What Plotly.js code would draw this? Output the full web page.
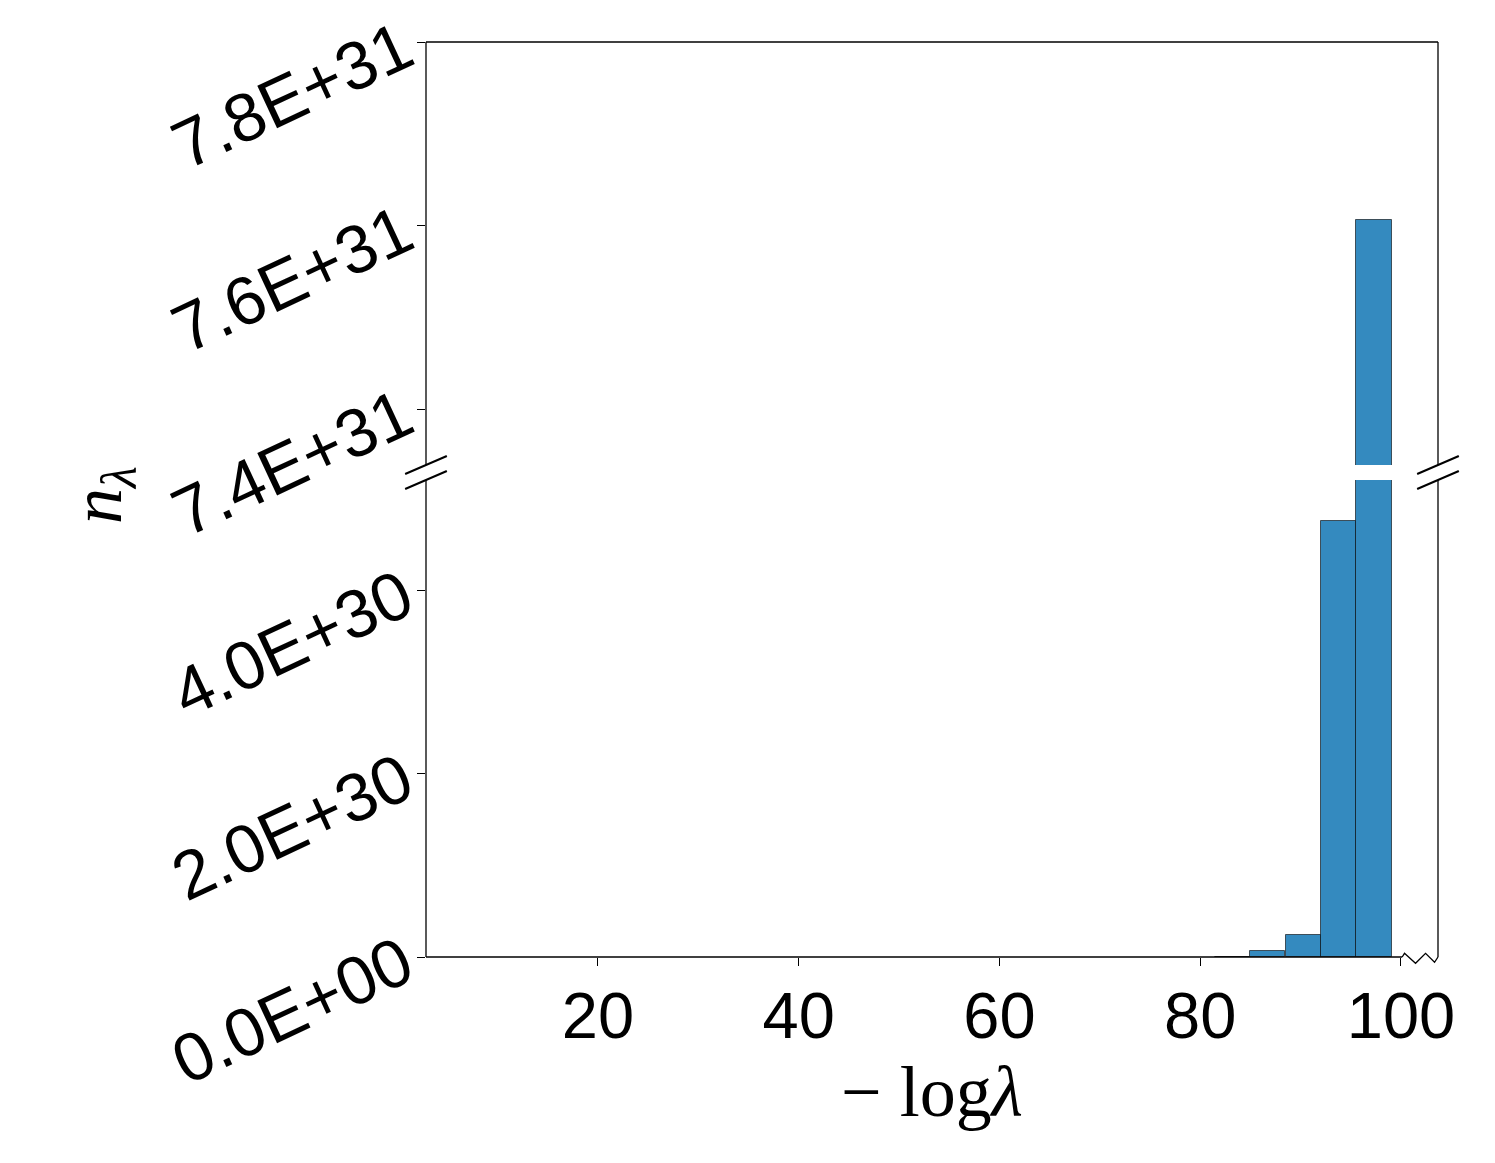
<!DOCTYPE html>
<html>
<head>
<meta charset="utf-8">
<script src="https://cdn.plot.ly/plotly-3.0.1.min.js"></script>
<style>
  html, body { margin: 0; padding: 0; background: #fff; }
  #myDiv { width: 1495px; height: 1163px; }
</style>
</head>
<body>
<div id="myDiv"></div>
<script>
// histogram bins (-log lambda) and counts n_lambda
var binCenters = [83.23, 86.73, 90.27, 93.79, 97.31];
var binWidth = 3.52;
var counts = [1.0e27, 6.5e28, 2.4e29, 4.75e30, 7.6065e31];

var xTickVals = [20, 40, 60, 80, 100];
var lowerTickVals = [0, 2e30, 4e30];
var lowerTickText = ['0.0E+00', '2.0E+30', '4.0E+30'];
var upperTickVals = [7.4e31, 7.6e31, 7.8e31];
var upperTickText = ['7.4E+31', '7.6E+31', '7.8E+31'];

var barColor = '#348abf';
var sans = 'Liberation Sans, Arial, sans-serif';
var serif = 'Liberation Serif, Times New Roman, serif';
var xTickFont = {family: sans, size: 65, color: '#000'};
var yTickFont = {family: sans, size: 68, color: '#000'};

var bars = {
  type: 'bar',
  x: binCenters,
  y: counts,
  width: binWidth,
  marker: {color: barColor, line: {color: 'rgba(0,0,0,0.6)', width: 1}},
  hoverinfo: 'x+y'
};
var lower = Object.assign({}, bars, {xaxis: 'x', yaxis: 'y'});
var upper = Object.assign({}, bars, {xaxis: 'x', yaxis: 'y2'});

var lowTop = 0.5213, upBot = 0.5377;
var dx = 0.0206, dy = 0.0098;
var spine = {color: '#000', width: 1.3};
var brk = {color: '#000', width: 2};

function seg(x0, y0, x1, y1, line) {
  return {type: 'line', xref: 'paper', yref: 'paper', x0: x0, y0: y0, x1: x1, y1: y1, line: line};
}

var shapes = [
  // spines
  seg(0, 0, 0, lowTop, spine),
  seg(1, 0, 1, lowTop, spine),
  seg(0, upBot, 0, 1, spine),
  seg(1, upBot, 1, 1, spine),
  seg(0, 1, 1, 1, spine),
  seg(0, 0, 0.9646, 0, spine),
  // wavy end of the x axis
  {type: 'path', xref: 'paper', yref: 'paper',
   path: 'M 0.9646 0 L 0.9669 0.0040 L 0.9778 -0.0069 L 0.9877 0.0040 L 0.9966 -0.0058 L 1 0',
   line: spine},
  // break marks
  seg(-dx, upBot - dy, dx, upBot + dy, brk),
  seg(-dx, lowTop - dy, dx, lowTop + dy, brk),
  seg(1 - dx, upBot - dy, 1 + dx, upBot + dy, brk),
  seg(1 - dx, lowTop - dy, 1 + dx, lowTop + dy, brk)
];

var layout = {
  width: 1495,
  height: 1163,
  margin: {l: 426, r: 57, t: 42, b: 206},
  paper_bgcolor: '#fff',
  plot_bgcolor: '#fff',
  showlegend: false,
  bargap: 0,
  xaxis: {
    range: [2.87, 103.69],
    tickvals: xTickVals,
    ticks: 'outside', ticklen: 8, tickwidth: 1.3, tickcolor: '#000',
    ticklabelstandoff: -6,
    showgrid: false, zeroline: false, showline: false,
    tickfont: xTickFont,
    anchor: 'y',
    title: {text: '− log<i>λ</i>', font: {family: serif, size: 72, color: '#000'}, standoff: 14}
  },
  yaxis: {
    domain: [0, lowTop],
    range: [0, 5.2e30],
    tickvals: lowerTickVals, ticktext: lowerTickText,
    tickangle: -25,
    ticks: 'outside', ticklen: 8, tickwidth: 1.3, tickcolor: '#000',
    showgrid: false, zeroline: false, showline: false,
    tickfont: yTickFont,
    anchor: 'x'
  },
  yaxis2: {
    domain: [upBot, 1],
    range: [7.3393e31, 7.8e31],
    tickvals: upperTickVals, ticktext: upperTickText,
    tickangle: -25,
    ticks: 'outside', ticklen: 8, tickwidth: 1.3, tickcolor: '#000',
    showgrid: false, zeroline: false, showline: false,
    tickfont: yTickFont,
    anchor: 'x'
  },
  shapes: shapes,
  annotations: [{
    xref: 'paper', yref: 'paper', x: -0.32, y: 0.505,
    xanchor: 'center', yanchor: 'middle',
    text: '<i>n</i><sub><i>λ</i></sub>', showarrow: false, textangle: -90,
    font: {family: serif, size: 72, color: '#000'}
  }]
};

Plotly.newPlot('myDiv', [lower, upper], layout, {displayModeBar: false});
</script>
</body>
</html>
